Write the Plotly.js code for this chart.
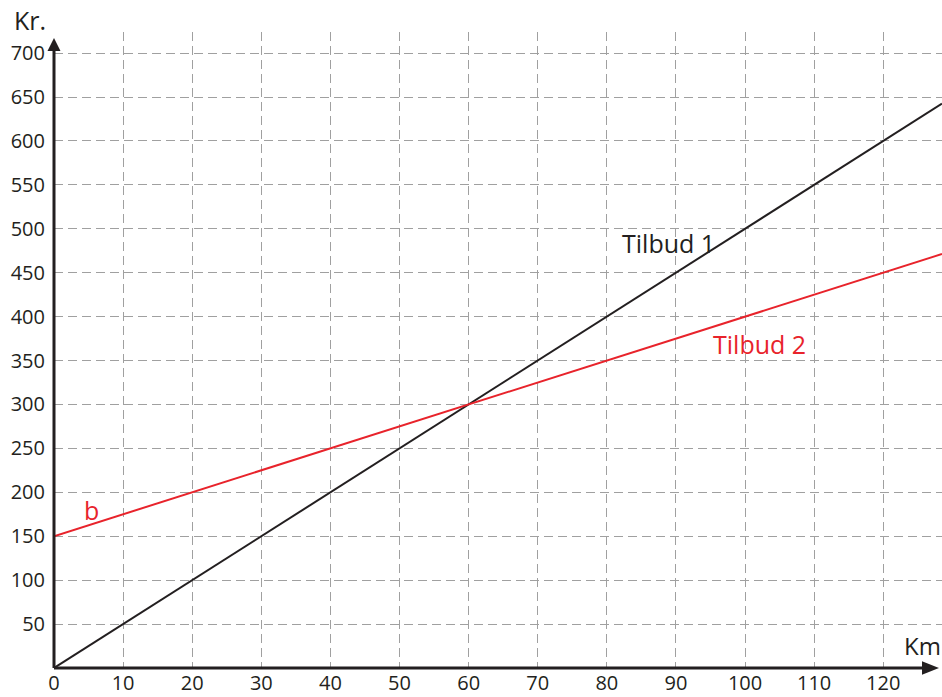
<!DOCTYPE html>
<html><head><meta charset="utf-8">
<script src="https://cdn.plot.ly/plotly-3.0.1.min.js"></script>
<style>html,body{margin:0;padding:0;background:#fff}#c{width:942px;height:697px}</style>
</head><body><div id="c"></div>
<script>
const km = [0, 128.5];
const tilbud1 = [0, 642.5];      // 5 kr per km
const tilbud2 = [150, 471.25];   // 150 + 2.5 kr per km
const xTicks = [0,10,20,30,40,50,60,70,80,90,100,110,120];
const yTicks = [50,100,150,200,250,300,350,400,450,500,550,600,650,700];

const red = '#e8232b';
const ink = '#231f20';
const fam = '"Open Sans", "Noto Sans", sans-serif';
const font = {family: fam, size: 20, color: ink};

const traces = [
  {x: km, y: tilbud1, mode: 'lines', line: {color: ink, width: 2}, hoverinfo: 'skip'},
  {x: km, y: tilbud2, mode: 'lines', line: {color: red, width: 2}, hoverinfo: 'skip'}
];

// pixel -> paper helpers (plot area: x 54..942, y 32..668)
const px = p => (p - 54) / 888;
const py = p => (668 - p) / 636;

function lab(text, x, y, size, color) {
  return {x: px(x), y: py(y), xref: 'paper', yref: 'paper', xanchor: 'center', yanchor: 'middle',
    text: text, showarrow: false, font: {family: fam, size: size, color: color}};
}

const layout = {
  width: 942, height: 697,
  margin: {l: 54, r: 0, t: 32, b: 29},
  showlegend: false,
  paper_bgcolor: '#fff', plot_bgcolor: '#fff',
  font: font,
  xaxis: {range: [0, 128.5], tickvals: xTicks, ticktext: xTicks.map(String),
    showgrid: true, gridcolor: '#a0a0a0', gridwidth: 1, griddash: '9px,5px',
    zeroline: false, showline: false, ticks: '', ticklen: 0, tickfont: font,
    ticklabelstandoff: 1, fixedrange: true},
  yaxis: {range: [0, 724], tickvals: yTicks, ticktext: yTicks.map(String),
    showgrid: true, gridcolor: '#a0a0a0', gridwidth: 1, griddash: '9px,5px',
    zeroline: false, showline: false, ticks: '', ticklen: 0, tickfont: font,
    ticklabelstandoff: 8, fixedrange: true},
  shapes: [
    {type: 'line', xref: 'paper', yref: 'paper', x0: 0, y0: 0, x1: 0, y1: 0.975, line: {color: ink, width: 3}},
    {type: 'line', xref: 'paper', yref: 'paper', x0: 0, y0: 0, x1: 0.985, y1: 0, line: {color: ink, width: 3}},
    {type: 'path', xref: 'paper', yref: 'paper',
      path: 'M -0.0073,0.97 L 0.0073,0.97 L 0,0.9906 Z', fillcolor: ink, line: {width: 0}},
    {type: 'path', xref: 'paper', yref: 'paper',
      path: 'M 0.9775,0.0105 L 0.9775,-0.0105 L 0.9966,0 Z', fillcolor: ink, line: {width: 0}}
  ],
  annotations: [
    lab('Tilbud 1', 668, 243, 25, ink),
    lab('Tilbud 2', 759, 344, 25, red),
    lab('b', 91, 510, 25, red),
    lab('Km', 922, 645, 24, ink),
    lab('Kr.', 30, 20, 25, ink)
  ]
};

Plotly.newPlot('c', traces, layout, {staticPlot: true});
</script></body></html>
